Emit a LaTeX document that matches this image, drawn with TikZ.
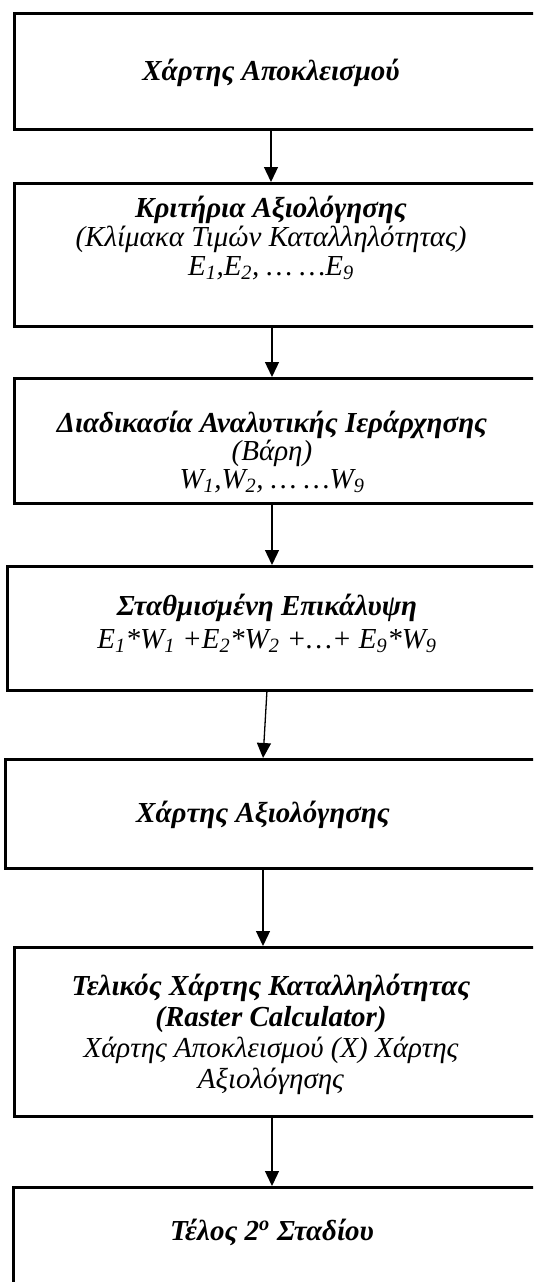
\documentclass[tikz,border=0pt]{standalone}
\usepackage{fontspec}
\setmainfont{Liberation Serif}
\usetikzlibrary{arrows.meta}
\begin{document}
\begin{tikzpicture}[x=1pt,y=-1pt,
  box/.style={draw=black,line width=3pt,inner sep=0pt,outer sep=0pt,anchor=north west,minimum width=546pt},
  txt/.style={align=center,inner sep=0pt,anchor=base,font=\fontsize{29}{29}\selectfont\itshape},
  arr/.style={line width=1.3pt,-{Triangle[width=14pt,length=15pt]},shorten >=1pt}]
\fill[white] (0,0) rectangle (533,1282);
\clip (0,0) rectangle (533,1282);
% boxes
\node[box,minimum height=116pt] (b1) at (14,13) {};
\node[box,minimum height=143pt] (b2) at (14,183) {};
\node[box,minimum height=125pt] (b3) at (14,378) {};
\node[box,minimum height=124pt,minimum width=553pt] (b4) at (7,566) {};
\node[box,minimum height=109pt,minimum width=555pt] (b5) at (5,759) {};
\node[box,minimum height=169pt] (b6) at (14,947) {};
\node[box,minimum height=150pt,minimum width=547pt] (b7) at (13,1187) {};
% texts (anchor=base is the baseline of the last line)
\node[txt] (t1) at (271,80) {\textbf{Χάρτης Αποκλεισμού}};
\node[txt] (t2) at (271,275) {\textbf{Κριτήρια Αξιολόγησης}\\(Κλίμακα Τιμών Καταλληλότητας)\\E\textsubscript{1},E\textsubscript{2}, … …E\textsubscript{9}};
\node[txt,font=\fontsize{29}{28}\selectfont\itshape] (t3) at (272,488) {\textbf{Διαδικασία Αναλυτικής Ιεράρχησης}\\(Βάρη)\\W\textsubscript{1},W\textsubscript{2}, … …W\textsubscript{9}};
\node[txt,font=\fontsize{29}{33}\selectfont\itshape] (t4) at (267,648) {\textbf{Σταθμισμένη Επικάλυψη}\\E\textsubscript{1}*W\textsubscript{1} +E\textsubscript{2}*W\textsubscript{2} +…+ E\textsubscript{9}*W\textsubscript{9}};
\node[txt] (t5) at (263,822) {\textbf{Χάρτης Αξιολόγησης}};
\node[txt,font=\fontsize{29}{31}\selectfont\itshape] (t6) at (271,1088) {\textbf{Τελικός Χάρτης Καταλληλότητας}\\\textbf{(Raster Calculator)}\\Χάρτης Αποκλεισμού (X) Χάρτης\\Αξιολόγησης};
\node[txt] (t7) at (272,1240) {\textbf{Τέλος 2\textsuperscript{ο} Σταδίου}};
% arrows
\draw[arr] (b1.south -| t1) -- (b2.north -| t1);
\draw[arr] (b2.south -| t3) -- (b3.north -| t3);
\draw[arr] (b3.south -| t3) -- (b4.north -| t3);
\draw[arr] (b4.south -| t4) -- (b5.north -| t5);
\draw[arr] (b5.south -| t5) -- (b6.north -| t5);
\draw[arr] (b6.south -| t7) -- (b7.north -| t7);
\end{tikzpicture}
\end{document}
